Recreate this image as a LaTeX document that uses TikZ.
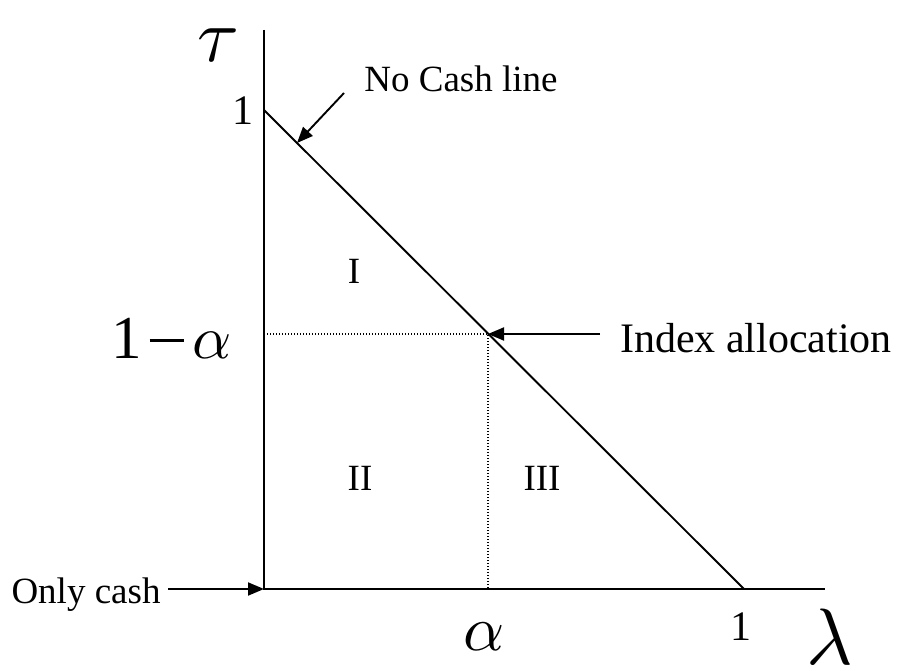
\documentclass[tikz,border=0pt]{standalone}
\usepackage{fontspec}
\setmainfont{Liberation Serif}
\usetikzlibrary{arrows.meta}

\begin{document}
\begin{tikzpicture}[x=1pt,y=-1pt,line width=1.9pt,
    every node/.style={inner sep=0pt},
    txt/.style={font=\fontsize{37}{37}\selectfont},
    bigtxt/.style={font=\fontsize{42}{42}\selectfont},
    greek/.style={font=\fontsize{10}{10}\selectfont,scale=6.4},
    guide/.style={line width=1.3pt,dash pattern=on 1.3pt off 1.7pt},
    pointer/.style={-{Triangle[length=16pt,width=13pt]}}]
  \useasboundingbox (0,0) rectangle (899,671);
  % corners of the triangle
  \coordinate (O) at (264,589);
  \coordinate (T1) at (264,110);
  \coordinate (L1) at (744,589);
  \coordinate (P) at (488,334);
  \draw (264,30)--(O)--(825,589);
  \draw (T1)--(L1);
  \draw[guide] (264,334)--(P)--(488,589);
  % axis labels
  \node[greek,scale=7.6/6.4,anchor=base] (tau) at (218,62) {$\tau$};
  \node[greek,scale=8/6.4,anchor=base] (lam) at (830,664) {$\lambda$};
  \node[greek,anchor=base] (alf) at (484,650) {$\alpha$};
  \node[greek,scale=6.1/6.4,anchor=base east] (oma) at (238,358)
    {1\kern.12em\raisebox{.26em}{\rule{.56em}{.045em}}\kern.15em$\alpha$};
  \node[font=\fontsize{42}{42}\selectfont,anchor=base] (one1) at (243,125) {1};
  \node[font=\fontsize{42}{42}\selectfont,anchor=base] (one2) at (741,640) {1};
  % regions
  \node[txt,anchor=base] (r1) at (354,283) {I};
  \node[txt,anchor=base] (r2) at (360,490) {II};
  \node[txt,anchor=base] (r3) at (542,490) {III};
  % pointers
  \node[txt,anchor=base] (nocash) at (461,92) {No Cash line};
  \node[bigtxt,anchor=base] (index) at (756,352) {Index allocation};
  \node[txt,anchor=base] (onlycash) at (86,603) {Only cash};
  \coordinate (ncs) at (344,93);
  \coordinate (nct) at (297,143);
  \coordinate (ias) at (600,334);
  \coordinate (ocs) at (168,589);
  \draw[pointer] (ncs)--(nct);
  \draw[pointer] (ias)--(P);
  \draw[pointer] (ocs)--(O);
\end{tikzpicture}
\end{document}
